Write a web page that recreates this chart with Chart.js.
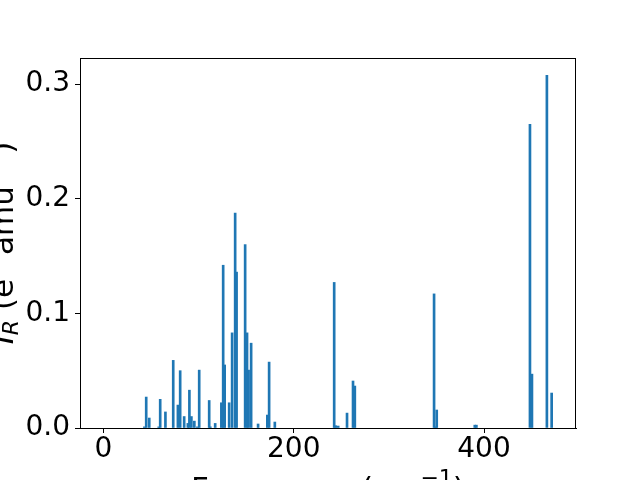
<!DOCTYPE html>
<html lang="en">
<head>
  <meta charset="UTF-8" />
  <title>IR spectrum</title>
  <script src="https://cdn.jsdelivr.net/npm/chart.js"></script>
  <style>
    body { margin: 0; background: #fff; }
    #wrap { width: 640px; height: 480px; }
  </style>
</head>
<body>
  <div id="wrap"><canvas id="chart" width="640" height="480"></canvas></div>

  <script>
    // frequencies (cm^-1) and IR intensities
    const freqs = [43.0, 44.9, 48.1, 58.1, 59.6, 65.1, 73.3, 78.2, 80.6, 84.8, 88.7, 90.3, 92.4, 95.5,
      98.7, 100.6, 111.1, 112.3, 117.4, 123.9, 125.8, 127.4, 132.1, 135.2, 138.4, 139.9, 148.9,
      150.9, 152.5, 155.2, 162.5, 172.2, 174.1, 180.1, 242.5, 244.1, 246.7, 256.0, 262.3, 264.2,
      347.5, 349.0, 350.3, 390.3, 392.0, 448.3, 450.4, 466.1, 471.1];
    const intensities = [0.001, 0.027, 0.0087, 0.001, 0.025, 0.014, 0.059, 0.020, 0.050, 0.010, 0.004,
      0.033, 0.010, 0.006, 0.001, 0.0505, 0.024, 0.001, 0.004, 0.022, 0.142, 0.055, 0.022, 0.083,
      0.1875, 0.136, 0.160, 0.083, 0.0505, 0.074, 0.0035, 0.0113, 0.0575, 0.0052, 0.127, 0.002,
      0.0017, 0.013, 0.041, 0.0366, 0.117, 0.001, 0.0157, 0.0025, 0.0025, 0.265, 0.047, 0.3077, 0.0305];
    const xTicks = [0, 200, 400];
    const yTicks = [0, 0.1, 0.2, 0.3];

    const font = "DejaVu Sans";
    const points = freqs.map((f, i) => ({ x: f, y: intensities[i] }));

    const labelsPlugin = {
      id: "labels",
      afterDraw(chart) {
        const ctx = chart.ctx;
        const a = chart.chartArea;
        ctx.save();
        // frame on all four sides
        ctx.strokeStyle = "#000";
        ctx.lineWidth = 1;
        ctx.strokeRect(Math.round(a.left) + 0.5, Math.round(a.top) + 0.5,
          Math.round(a.right - a.left) - 1, Math.round(a.bottom - a.top));

        ctx.fillStyle = "#000";
        ctx.textBaseline = "alphabetic";

        // x label: Frequency (cm^-1)
        const big = "31px '" + font + "'";
        const small = "22px '" + font + "'";
        const xParts = [["Frequency (cm", big, 0], ["\u22121", small, -14], [")", big, 0]];
        drawParts(ctx, xParts, (a.left + a.right) / 2, 499);

        // y label: I_R (e^2 amu^-1), rotated
        ctx.translate(13, (a.top + a.bottom) / 2);
        ctx.rotate(-Math.PI / 2);
        const yParts = [["I", "italic " + big, 0], ["R", "italic " + small, 5], [" (e", big, 0],
          ["2", small, -14], [" amu", big, 0], ["\u22121", small, -14], [")", big, 0]];
        drawParts(ctx, yParts, 0, 0);
        ctx.restore();
      }
    };

    function drawParts(ctx, parts, cx, y) {
      let total = 0;
      parts.forEach(p => { ctx.font = p[1]; total += ctx.measureText(p[0]).width; });
      let x = cx - total / 2;
      parts.forEach(p => {
        ctx.font = p[1];
        ctx.textAlign = "left";
        ctx.fillText(p[0], x, y + p[2]);
        x += ctx.measureText(p[0]).width;
      });
    }

    new Chart(document.getElementById("chart"), {
      type: "bar",
      data: {
        datasets: [{
          data: points,
          backgroundColor: "#1f77b4",
          barThickness: 2,
          borderWidth: 0
        }]
      },
      options: {
        responsive: false,
        animation: false,
        layout: { padding: { left: 0, right: 64, top: 58, bottom: 0 } },
        plugins: { legend: { display: false }, tooltip: { enabled: false } },
        scales: {
          x: {
            type: "linear",
            min: -24.7,
            max: 496.7,
            offset: false,
            afterBuildTicks: s => { s.ticks = xTicks.map(v => ({ value: v })); },
            afterFit: s => { s.height = 52; },
            grid: { offset: false, drawOnChartArea: false, tickLength: 5, color: "#000" },
            border: { color: "#000" },
            ticks: { color: "#000", padding: 0, maxRotation: 0, font: { family: font, size: 28 } }
          },
          y: {
            min: 0,
            max: 0.3228,
            afterBuildTicks: s => { s.ticks = yTicks.map(v => ({ value: v })); },
            afterFit: s => { s.width = 80; },
            grid: { drawOnChartArea: false, tickLength: 5, color: "#000" },
            border: { color: "#000" },
            ticks: { color: "#000", padding: 5, font: { family: font, size: 28 },
              callback: v => v.toFixed(1) }
          }
        }
      },
      plugins: [labelsPlugin]
    });
  </script>
</body>
</html>
